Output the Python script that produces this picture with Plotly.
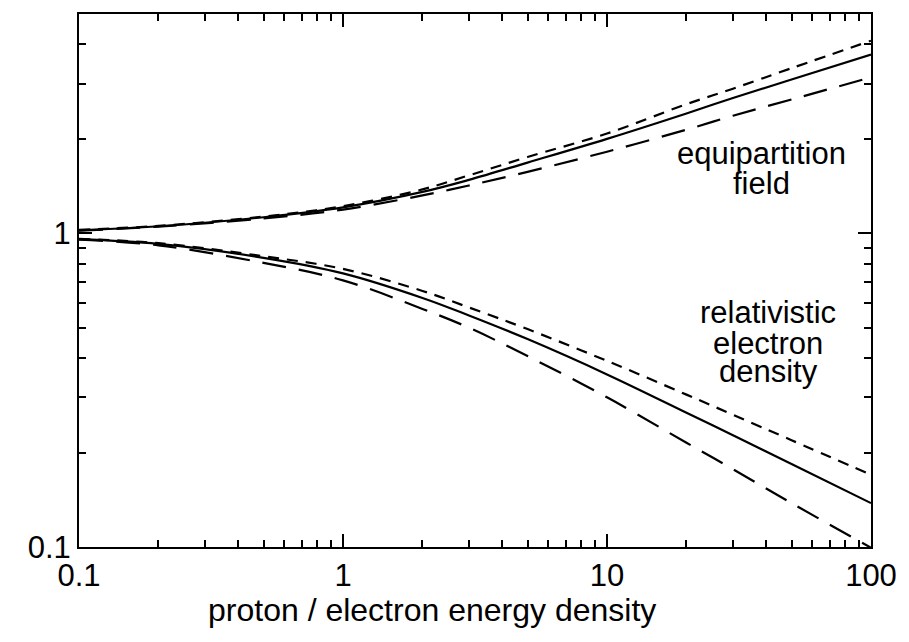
import plotly.graph_objects as go

# ratio of proton to electron energy density
ratio = [0.1, 0.2, 0.5, 1, 2, 3, 5, 10, 20, 30, 50, 100]

# equipartition field (upper group)
field_solid = [1.022, 1.053, 1.125, 1.21, 1.355, 1.48, 1.68, 2.00, 2.41, 2.70, 3.09, 3.71]
field_short = [1.025, 1.056, 1.13, 1.22, 1.38, 1.53, 1.75, 2.08, 2.58, 2.89, 3.36, 4.11]
field_long = [1.020, 1.050, 1.115, 1.19, 1.32, 1.42, 1.57, 1.82, 2.14, 2.37, 2.67, 3.14]

# relativistic electron density (lower group)
dens_solid = [0.958, 0.925, 0.835, 0.745, 0.622, 0.547, 0.460, 0.355, 0.268, 0.227, 0.184, 0.138]
dens_short = [0.960, 0.930, 0.845, 0.770, 0.655, 0.580, 0.495, 0.392, 0.306, 0.264, 0.219, 0.170]
dens_long = [0.955, 0.915, 0.805, 0.708, 0.574, 0.500, 0.406, 0.300, 0.215, 0.177, 0.138, 0.0995]

x_tickvals = [0.1, 1, 10, 100]
x_ticktext = ["0.1", "1", "10", "100"]
y_tickvals = [0.1, 1]
y_ticktext = ["0.1", "1"]
x_minor = [m * d for d in (0.1, 1, 10) for m in range(2, 10)]
y_minor = [m * d for d in (0.1, 1) for m in range(2, 10) if m * d <= 5]

FONT = "Liberation Sans, Arial, Helvetica, sans-serif"
SHORT = "11px,8px"
LONG = "24px,13px"

fig = go.Figure()
series = [
    (field_short, SHORT), (field_solid, "solid"), (field_long, LONG),
    (dens_short, SHORT), (dens_solid, "solid"), (dens_long, LONG),
]
for ys, dash in series:
    fig.add_trace(go.Scatter(
        x=ratio, y=ys, mode="lines",
        line=dict(color="black", width=2.2, dash=dash, shape="spline", smoothing=1.0),
        showlegend=False, hoverinfo="skip",
    ))

axis_common = dict(
    type="log", showgrid=False, zeroline=False,
    showline=True, linecolor="black", linewidth=2, mirror="ticks",
    ticks="inside", ticklen=13, tickwidth=2, tickcolor="black",
    tickfont=dict(family=FONT, size=31, color="black"),
)

fig.update_xaxes(
    **axis_common, range=[-1, 2], tickmode="array",
    tickvals=x_tickvals, ticktext=x_ticktext,
    minor=dict(tickmode="array", tickvals=x_minor, ticks="inside",
               ticklen=7, tickwidth=2, tickcolor="black", showgrid=False),
)
fig.update_yaxes(
    **axis_common, range=[-1, 0.69897], tickmode="array",
    tickvals=y_tickvals, ticktext=y_ticktext,
    minor=dict(tickmode="array", tickvals=y_minor, ticks="inside",
               ticklen=7, tickwidth=2, tickcolor="black", showgrid=False),
)

def ann(text, x, y, size=31):
    fig.add_annotation(text=text, x=x, y=y, xref="paper", yref="paper",
                       xanchor="center", yanchor="middle", showarrow=False,
                       font=dict(family=FONT, size=size, color="black"))

ann("equipartition", 0.862, 0.738)
ann("field", 0.862, 0.682)
ann("relativistic", 0.870, 0.440)
ann("electron", 0.870, 0.382)
ann("density", 0.870, 0.330)
ann("proton / electron energy density", 0.446, -0.118, size=32)

fig.update_layout(
    width=909, height=642,
    margin=dict(l=79, r=31, t=13, b=95),
    paper_bgcolor="white", plot_bgcolor="white",
    font=dict(family=FONT, color="black"),
)

fig.write_html("out.html")
